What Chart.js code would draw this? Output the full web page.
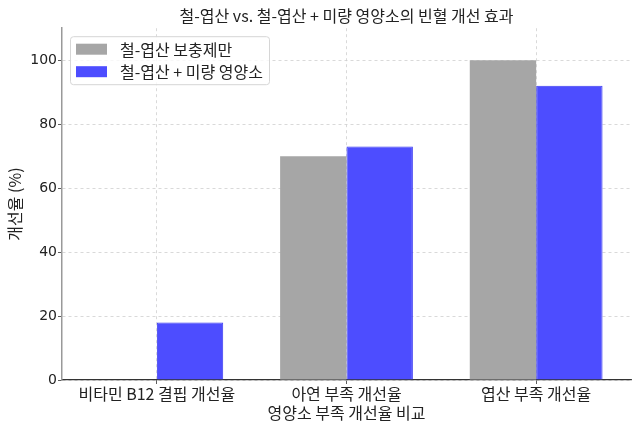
<!DOCTYPE html>
<html>
<head>
<meta charset="utf-8">
<script src="https://cdn.jsdelivr.net/npm/chart.js@4.4.1/dist/chart.umd.min.js"></script>
<style>
html,body{margin:0;padding:0;background:#fff;}
#wrap{width:640px;height:429px;position:relative;}
</style>
</head>
<body>
<div id="wrap"><canvas id="c" width="640" height="429"></canvas></div>
<script>
const categories = ["비타민 B12 결핍 개선율", "아연 부족 개선율", "엽산 부족 개선율"];
const ironFolate = [0, 70, 100];
const ironFolateMicro = [18, 73, 92];
const seriesNames = ["철-엽산 보충제만", "철-엽산 + 미량 영양소"];
const yTicks = [0, 20, 40, 60, 80, 100];
const titleText = "철-엽산 vs. 철-엽산 + 미량 영양소의 빈혈 개선 효과";
const xTitle = "영양소 부족 개선율 비교";
const yTitle = "개선율 (%)";

const FONT = "'DejaVu Sans', 'Noto Sans CJK KR', sans-serif";
const KFONT = "'Noto Sans CJK KR', 'DejaVu Sans', sans-serif";

const legendPlugin = {
  id: 'innerLegend',
  afterDraw(chart) {
    const ctx = chart.ctx;
    const area = chart.chartArea;
    const x0 = area.left + 8, y0 = area.top + 8, w = 199, h = 48;
    ctx.save();
    ctx.fillStyle = 'rgba(255,255,255,0.8)';
    ctx.strokeStyle = '#d6d6d6';
    ctx.lineWidth = 1;
    ctx.beginPath();
    ctx.roundRect(x0 + 0.5, y0 + 0.5, w, h, 3);
    ctx.fill();
    ctx.stroke();
    chart.data.datasets.forEach((ds, i) => {
      const ry = y0 + 12.5 + i * 22.5;
      ctx.fillStyle = ds.backgroundColor;
      ctx.fillRect(x0 + 6, ry - 5, 31, 11);
      ctx.fillStyle = '#222';
      ctx.font = "16px " + KFONT;
      ctx.textBaseline = 'middle';
      ctx.textAlign = 'left';
      ctx.fillText(ds.label, x0 + 50, ry + 1);
    });
    ctx.restore();
  }
};

new Chart(document.getElementById('c'), {
  type: 'bar',
  data: {
    labels: categories,
    datasets: [
      { label: seriesNames[0], data: ironFolate, backgroundColor: '#a6a6a6', borderWidth: 0 },
      { label: seriesNames[1], data: ironFolateMicro, backgroundColor: '#4d4dff', borderColor: '#3b3bf0', borderWidth: 1 }
    ]
  },
  options: {
    responsive: false,
    animation: false,
    devicePixelRatio: 1,
    layout: { padding: { left: 0, right: 9, top: 0, bottom: 0 } },
    datasets: { bar: { categoryPercentage: 0.7, barPercentage: 1.0 } },
    plugins: {
      legend: { display: false },
      tooltip: { enabled: false },
      title: {
        display: true, text: titleText, color: '#222', fullSize: false,
        font: { family: KFONT, size: 16, weight: 'normal' },
        padding: { top: 6, bottom: 3 }
      }
    },
    scales: {
      x: {
        offset: true,
        afterFit(scale) { scale.height = 49; },
        grid: { display: true, offset: false, color: '#d0d0d0', lineWidth: 0.8, drawTicks: true, tickLength: 4, tickColor: '#333', tickBorderDash: [] },
        border: { display: true, color: '#333', width: 1.2, dash: [3, 3] },
        ticks: { color: '#222', font: { family: KFONT, size: 16 }, padding: 0, maxRotation: 0, autoSkip: false },
        title: { display: true, text: xTitle, color: '#222', font: { family: KFONT, size: 16 }, padding: { top: 0, bottom: 6 } }
      },
      y: {
        min: 0, max: 110,
        afterFit(scale) { scale.width = 62; },
        afterBuildTicks(scale) { scale.ticks = yTicks.map(v => ({ value: v })); },
        grid: { color: '#d0d0d0', lineWidth: 0.8, drawTicks: true, tickLength: 4, tickColor: '#333', tickBorderDash: [] },
        border: { display: true, color: '#999', width: 1.5, dash: [3, 3] },
        ticks: { color: '#222', font: { family: FONT, size: 14 }, padding: 1 },
        title: { display: true, text: yTitle, color: '#222', font: { family: KFONT, size: 16 }, padding: { top: 5, bottom: 0 } }
      }
    }
  },
  plugins: [legendPlugin]
});
</script>
</body>
</html>
